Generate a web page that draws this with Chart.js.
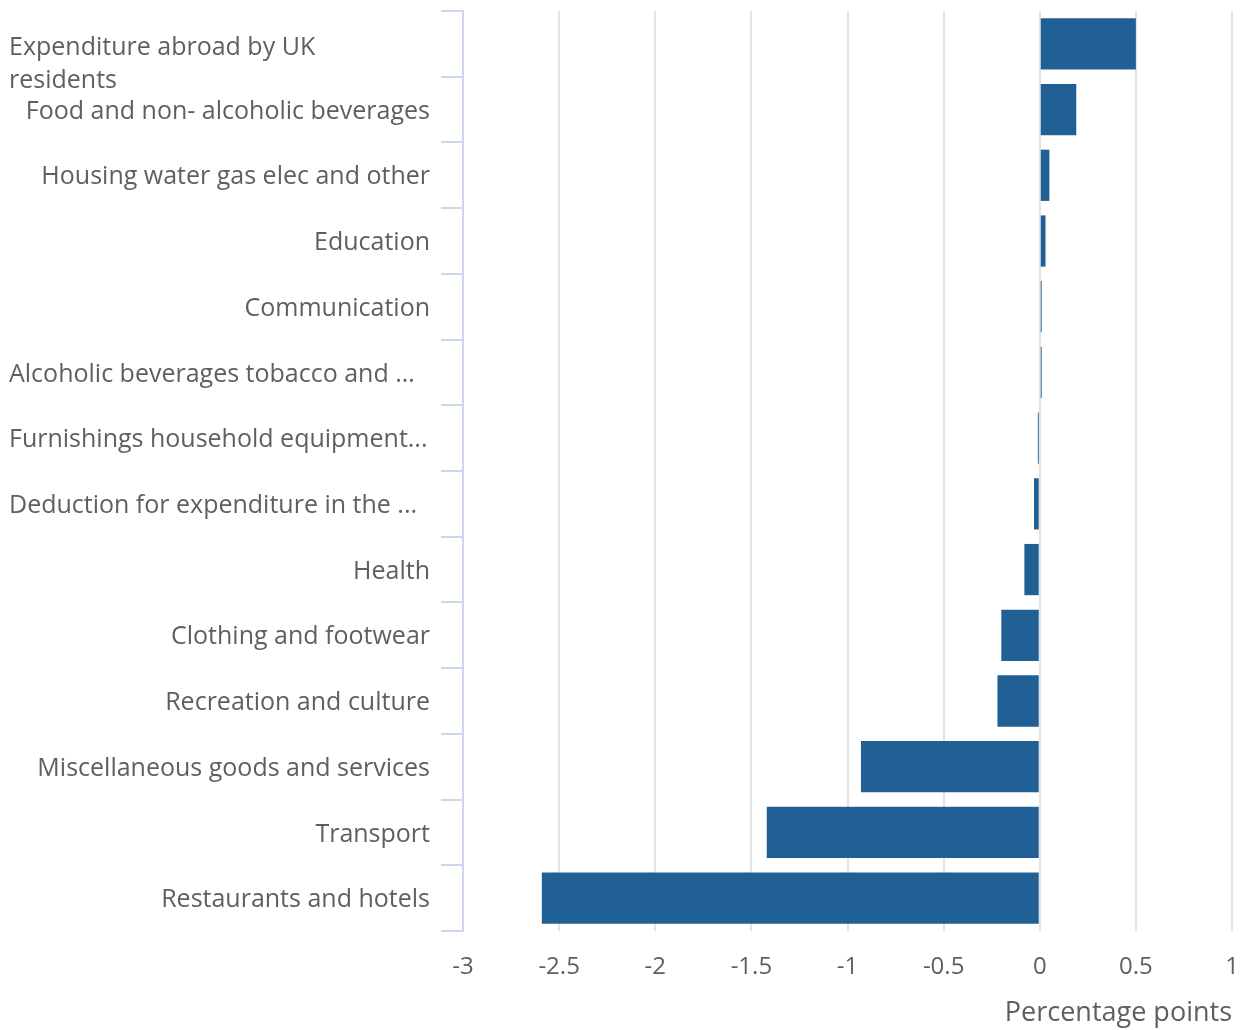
<!DOCTYPE html>
<html>
<head>
<meta charset="utf-8">
<script src="https://cdn.jsdelivr.net/npm/chart.js@4/dist/chart.umd.min.js"></script>
<style>
  html, body { margin: 0; padding: 0; background: #fff; }
  #wrap { width: 1244px; height: 1030px; }
</style>
</head>
<body>
<div id="wrap"><canvas id="chart"></canvas></div>
<script>
// categories as shown on the chart (long ones are cut in the original)
const categories = [
  ['Expenditure abroad by UK', 'residents'],
  'Food and non- alcoholic beverages',
  'Housing water gas elec and other',
  'Education',
  'Communication',
  'Alcoholic beverages tobacco and ...',
  'Furnishings household equipment...',
  'Deduction for expenditure in the ...',
  'Health',
  'Clothing and footwear',
  'Recreation and culture',
  'Miscellaneous goods and services',
  'Transport',
  'Restaurants and hotels'
];
const values = [0.5, 0.19, 0.05, 0.03, 0.01, 0.01, -0.01, -0.03, -0.08, -0.2, -0.22, -0.93, -1.42, -2.59];
const xTicks = [-3, -2.5, -2, -1.5, -1, -0.5, 0, 0.5, 1];
const xTitle = 'Percentage points';

const textColor = '#5f5f5f';
const axisColor = '#cdd6ee';

// draws the category labels left of the y axis
// wrapped and cut labels sit flush left, the rest flush right
const labelPlugin = {
  id: 'catLabels',
  afterDraw(chart) {
    const ctx = chart.ctx;
    const y = chart.scales.y;
    ctx.save();
    ctx.font = '25px "Open Sans"';
    ctx.fillStyle = textColor;
    ctx.textBaseline = 'middle';
    categories.forEach((lab, i) => {
      const cy = y.getPixelForValue(i) + 2;
      if (Array.isArray(lab)) {
        ctx.textAlign = 'left';
        lab.forEach((line, j) => ctx.fillText(line, 9, cy + 2 + j * 33));
      } else if (lab.endsWith('...')) {
        ctx.textAlign = 'left';
        ctx.fillText(lab, 9, cy);
      } else {
        ctx.textAlign = 'right';
        ctx.fillText(lab, y.right - 33, cy);
      }
    });
    ctx.restore();
  }
};

new Chart(document.getElementById('chart'), {
  type: 'bar',
  data: {
    labels: categories,
    datasets: [{
      data: values,
      backgroundColor: '#206095',
      borderWidth: 0,
      barPercentage: 0.78,
      categoryPercentage: 1
    }]
  },
  options: {
    indexAxis: 'y',
    responsive: true,
    maintainAspectRatio: false,
    animation: false,
    layout: { padding: { left: 0, right: 12, top: 11, bottom: 0 } },
    plugins: {
      legend: { display: false },
      tooltip: { enabled: false }
    },
    scales: {
      x: {
        min: -3,
        max: 1,
        afterBuildTicks: s => { s.ticks = xTicks.map(v => ({ value: v })); },
        afterFit: s => { s.height = 99; s.paddingLeft = 0; s.paddingRight = 0; },
        border: { display: false },
        grid: { color: '#e3e3e3', lineWidth: 2, drawTicks: false },
        ticks: {
          color: textColor,
          padding: 22,
          font: { family: 'Open Sans', size: 24 },
          callback: v => String(v)
        },
        title: {
          display: true,
          text: xTitle,
          align: 'end',
          color: textColor,
          padding: { top: 4, bottom: 0 },
          font: { family: 'Open Sans', size: 27 }
        }
      },
      y: {
        afterFit: s => { s.width = 463; },
        border: { display: true, color: axisColor, width: 2 },
        grid: {
          offset: true,
          drawOnChartArea: false,
          drawTicks: true,
          tickLength: 22,
          color: axisColor,
          lineWidth: 2
        },
        ticks: { display: false }
      }
    }
  },
  plugins: [labelPlugin]
});
</script>
</body>
</html>
